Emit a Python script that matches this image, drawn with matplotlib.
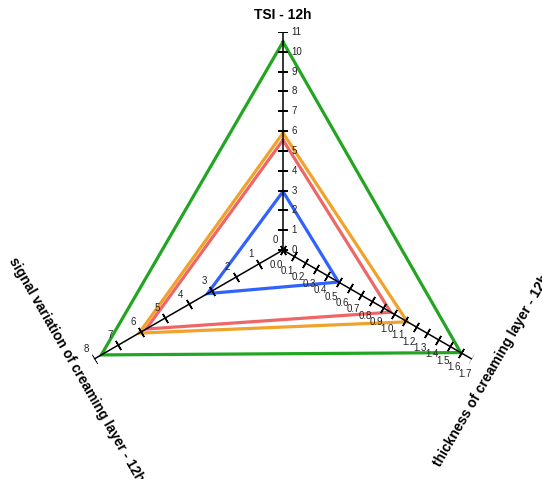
import numpy as np
import matplotlib
matplotlib.use("Agg")
import matplotlib.pyplot as plt

plt.rcParams['font.family'] = ['Liberation Sans', 'DejaVu Sans']

# ---- data ----
axis_labels = ["TSI - 12h", "thickness of creaming layer - 12h",
               "signal variation of creaming layer - 12h"]
axis_max = [11, 1.7, 8]
axis_step = [1, 0.1, 1]
tick_fmt = ["{:.0f}", "{:.1f}", "{:.0f}"]

series_green = [10.5, 1.60, 7.7]
series_orange = [5.9, 1.12, 6.1]
series_red = [5.55, 0.97, 5.8]
series_blue = [2.95, 0.50, 3.2]

series = [series_green, series_orange, series_red, series_blue]
colors = ["#22a622", "#f0a22a", "#ef6666", "#2f62ff"]

angles_deg = [90, 330, 210]
theta = np.deg2rad(angles_deg)

# ---- figure ----
W, H = 542, 479
fig = plt.figure(figsize=(W / 100, H / 100), dpi=100)
cx, cy, R = 283, 250, 218
ax = fig.add_axes([(cx - R) / W, (H - cy - R) / H, 2 * R / W, 2 * R / H],
                  projection='polar')
ax.set_ylim(0, 1)
ax.set_axis_off()

mx = np.array(axis_max, dtype=float)
for vals, col in zip(series, colors):
    r = np.array(vals) / mx
    ax.plot(np.append(theta, theta[0]), np.append(r, r[0]), color=col,
            lw=2.3, solid_joinstyle='miter', zorder=2)

label_offsets = [(6, 0), (-5, -10.5), (-5.8, 7.2)]
label_ha = ['left', 'center', 'center']
for i in range(3):
    ax.plot([theta[i], theta[i]], [0, 1], color='black', lw=1.1, zorder=3)
    ticks = np.arange(0, axis_max[i] + axis_step[i] / 2, axis_step[i])
    rt = ticks / axis_max[i]
    ax.plot(np.full_like(rt, theta[i]), rt, linestyle='none',
            marker=(2, 2, angles_deg[i]), ms=7.5, mew=1.1, color='black',
            zorder=3)
    for t, rr in zip(ticks, rt):
        ax.annotate(tick_fmt[i].format(t), xy=(theta[i], rr),
                    xytext=label_offsets[i], textcoords='offset points',
                    ha=label_ha[i], va='center', fontsize=7,
                    color='#222222', zorder=4)

title_r = [1.078, 1.105, 1.097]
title_rot = [0, 60, -60]
for i in range(3):
    ax.text(theta[i], title_r[i], axis_labels[i], rotation=title_rot[i],
            rotation_mode='anchor', ha='center', va='center',
            fontsize=10, fontweight='bold', color='black')

fig.savefig("out.png", dpi=100)
